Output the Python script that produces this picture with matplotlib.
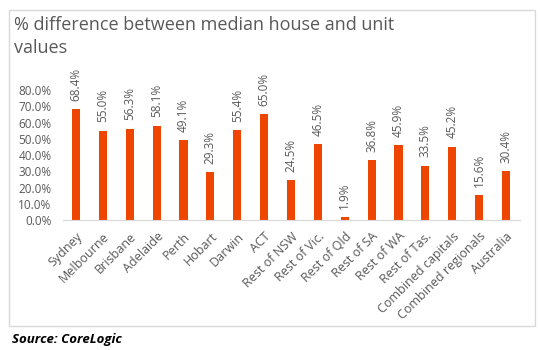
import matplotlib.pyplot as plt
from matplotlib.patches import Rectangle
import numpy as np

regions = ['Sydney', 'Melbourne', 'Brisbane', 'Adelaide', 'Perth', 'Hobart',
           'Darwin', 'ACT', 'Rest of NSW', 'Rest of Vic.', 'Rest of Qld',
           'Rest of SA', 'Rest of WA', 'Rest of Tas.', 'Combined capitals',
           'Combined regionals', 'Australia']
diff_pct = [68.4, 55.0, 56.3, 58.1, 49.1, 29.3, 55.4, 65.0, 24.5, 46.5, 1.9,
            36.8, 45.9, 33.5, 45.2, 15.6, 30.4]
y_ticks = [0, 10, 20, 30, 40, 50, 60, 70, 80]

plt.rcParams['font.family'] = ['Open Sans', 'DejaVu Sans']
grey = '#595959'
bar_col = '#EE4500'

fig = plt.figure(figsize=(5.4, 3.5), dpi=100)
ax = fig.add_axes([62.5 / 540, 0.371, 457 / 540, 0.372])

x = np.arange(len(regions))
ax.bar(x, diff_pct, width=0.3, color=bar_col)
for xi, v in zip(x, diff_pct):
    ax.text(xi, v + 5, f'{v:.1f}%', rotation=90, ha='center', va='bottom',
            fontsize=8.5, color=grey, clip_on=False)

ax.set_xlim(-0.5, len(regions) - 0.5)
ax.set_ylim(0, 80)
ax.set_yticks(y_ticks)
ax.set_yticklabels([f'{t:.1f}%' for t in y_ticks], fontsize=8.5, color=grey)
ax.set_xticks(x)
ax.set_xticklabels(regions, rotation=45, ha='right', rotation_mode='anchor',
                   fontsize=9, color=grey)
ax.tick_params(axis='y', length=0, pad=8)
ax.tick_params(axis='x', length=0, pad=7)
for s in ['top', 'right', 'left']:
    ax.spines[s].set_visible(False)
ax.spines['bottom'].set_color('#D9D9D9')

fig.text(14 / 540, 1 - 25 / 350, '% difference between median house and unit',
         fontsize=13, color=grey, va='center')
fig.text(14 / 540, 1 - 48 / 350, 'values', fontsize=13, color=grey,
         va='center')
fig.patches.append(Rectangle((9 / 540, 1 - 326 / 350), 526 / 540, 316 / 350,
                             transform=fig.transFigure, fill=False,
                             edgecolor='#D9D9D9', linewidth=1))
fig.text(12 / 540, 1 - 339 / 350, 'Source: CoreLogic', fontsize=9.5,
         fontweight='bold', fontstyle='italic', color='black', va='center')

fig.savefig('out.png', dpi=100)
